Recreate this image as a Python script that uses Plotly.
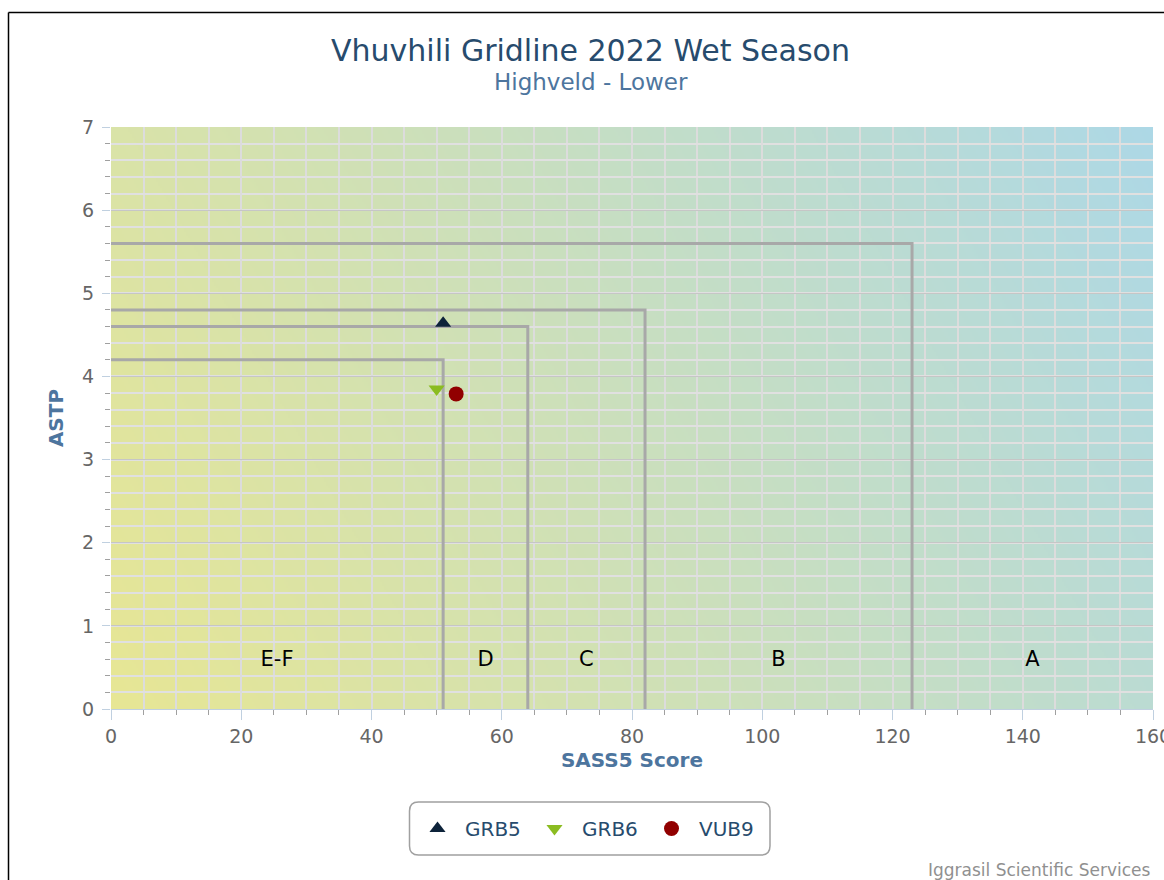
import base64
import struct
import zlib

import numpy as np
import plotly.graph_objects as go

# ---- data -----------------------------------------------------------------
sites = ["GRB5", "GRB6", "VUB9"]
sass5_score = [51, 50, 53]
aspt_value = [4.64, 3.85, 3.79]
site_symbols = ["triangle-up", "triangle-down", "circle"]
site_colors = ["#0d233a", "#8bbc21", "#910000"]

# ecological category boundaries (SASS5 limit, ASPT limit)
band_sass = [51, 64, 82, 123]
band_aspt = [4.2, 4.6, 4.8, 5.6]

# category labels and their centre along the SASS5 axis
class_labels = ["E-F", "D", "C", "B", "A"]
class_label_x = [25.5, 57.5, 73, 102.5, 141.5]

x_ticks = [0, 20, 40, 60, 80, 100, 120, 140, 160]
y_ticks = [0, 1, 2, 3, 4, 5, 6, 7]

# ---- page geometry --------------------------------------------------------
W, H = 1164, 880
L, R, T, B = 111, 11, 127, 171
PW, PH = W - L - R, H - T - B
FONT = "DejaVu Sans"


def px(x):
    return (x - L) / PW


def py(y):
    return (H - B - y) / PH


# ---- diagonal gradient for the plot background ---------------------------
def gradient_png(w, h, c0, c1):
    xs = np.linspace(0, 1, w)[None, :]
    ys = np.linspace(1, 0, h)[:, None]  # row 0 is the top
    t = (xs * PW * PW + ys * PH * PH) / (PW * PW + PH * PH)
    c0 = np.array(c0, float)
    c1 = np.array(c1, float)
    rgb = (c0 + (c1 - c0) * t[..., None]).round().astype(np.uint8)
    raw = b"".join(b"\x00" + rgb[i].tobytes() for i in range(h))

    def chunk(tag, data):
        body = tag + data
        return struct.pack(">I", len(data)) + body + struct.pack(">I", zlib.crc32(body) & 0xFFFFFFFF)

    png = (b"\x89PNG\r\n\x1a\n"
           + chunk(b"IHDR", struct.pack(">IIBBBBB", w, h, 8, 2, 0, 0, 0))
           + chunk(b"IDAT", zlib.compress(raw, 9))
           + chunk(b"IEND", b""))
    return "data:image/png;base64," + base64.b64encode(png).decode()


bg_uri = gradient_png(521, 291, (231, 230, 148), (173, 216, 230))

fig = go.Figure()

# category boundary lines
for bx, by in zip(band_sass, band_aspt):
    fig.add_trace(go.Scatter(
        x=[0, bx, bx], y=[by, by, 0], mode="lines",
        line=dict(color="#a8a8a8", width=3),
        showlegend=False, hoverinfo="skip", cliponaxis=False,
    ))

# category labels
fig.add_trace(go.Scatter(
    x=class_label_x, y=[0.58] * len(class_labels), mode="text",
    text=class_labels, textposition="middle center",
    textfont=dict(family=FONT, size=21, color="#000000"),
    showlegend=False, hoverinfo="skip",
))

# sites
for name, sx, sy, sym, col in zip(sites, sass5_score, aspt_value, site_symbols, site_colors):
    fig.add_trace(go.Scatter(
        x=[sx], y=[sy], mode="markers", name=name,
        marker=dict(symbol=sym, color=col, size=15 if sym == "circle" else 14,
                    line=dict(width=0)),
    ))

tick_font = dict(family=FONT, size=19, color="#666666")
title_font = dict(family=FONT, size=20, color="#4d759e")

fig.update_layout(
    width=W, height=H,
    margin=dict(l=L, r=R, t=T, b=B, autoexpand=False),
    paper_bgcolor="#ffffff",
    plot_bgcolor="rgba(0,0,0,0)",
    font=dict(family=FONT),
    title=dict(
        text="Vhuvhili Gridline 2022 Wet Season",
        font=dict(family=FONT, size=30, color="#274b6d"),
        x=590.5 / W, xref="container", xanchor="center",
        y=1 - 50 / H, yref="container", yanchor="middle",
    ),
    xaxis=dict(
        range=[0, 160], tickvals=x_ticks, ticktext=[str(v) for v in x_ticks],
        showgrid=True, gridcolor="#dcdcdc", gridwidth=1.5,
        zeroline=False, showline=True, linecolor="#c0d0e0", linewidth=1,
        ticks="outside", ticklen=10, tickcolor="#c0d0e0", tickwidth=1,
        tickfont=tick_font, ticklabeloverflow="allow", automargin=False,
        minor=dict(dtick=5, tick0=0, showgrid=True, gridcolor="#dcdcdc", gridwidth=1.5,
                   ticks="outside", ticklen=5, tickcolor="#a0a0a0"),
        title=dict(text="<b>SASS5 Score</b>", font=title_font, standoff=7),
        fixedrange=True,
    ),
    yaxis=dict(
        range=[0, 7], tickvals=y_ticks, ticktext=[str(v) for v in y_ticks],
        showgrid=True, gridcolor="#c6c6c6", gridwidth=1,
        zeroline=False, showline=False,
        ticks="outside", ticklen=8, tickcolor="#c0d0e0", tickwidth=1,
        tickfont=tick_font, ticklabelstandoff=4, automargin=False,
        minor=dict(dtick=0.2, tick0=0, showgrid=True, gridcolor="#e0e0e0", gridwidth=1.5,
                   ticks="outside", ticklen=5, tickcolor="#a0a0a0"),
        title=dict(text="<b>ASTP</b>", font=title_font, standoff=13),
        fixedrange=True,
    ),
    legend=dict(
        orientation="h", x=px(585.5), xanchor="center",
        y=py(828.5), yanchor="middle",
        bgcolor="rgba(0,0,0,0)", borderwidth=0,
        font=dict(family=FONT, size=20, color="#274b6d"),
        itemwidth=45, entrywidth=57, entrywidthmode="pixels",
        itemclick=False, itemdoubleclick=False,
    ),
    images=[dict(
        source=bg_uri, xref="x", yref="y", x=0, y=7, sizex=160, sizey=7,
        sizing="stretch", xanchor="left", yanchor="top", layer="below",
    )],
    annotations=[
        dict(text="Highveld - Lower", x=px(590.5), y=py(82), xref="paper", yref="paper",
             xanchor="center", yanchor="middle", showarrow=False,
             font=dict(family=FONT, size=23, color="#4d759e")),
        dict(text="Iggrasil Scientific Services", x=px(1152), y=py(870),
             xref="paper", yref="paper", xanchor="right", yanchor="middle",
             showarrow=False, font=dict(family=FONT, size=17, color="#909090")),
    ],
)

# rounded legend frame
lx0, lx1, ly0, ly1, rr = px(409.5), px(770), py(855), py(802), 9
rx, ry = rr / PW, rr / PH
legend_path = (
    f"M {lx0 + rx},{ly1} L {lx1 - rx},{ly1} Q {lx1},{ly1} {lx1},{ly1 - ry} "
    f"L {lx1},{ly0 + ry} Q {lx1},{ly0} {lx1 - rx},{ly0} "
    f"L {lx0 + rx},{ly0} Q {lx0},{ly0} {lx0},{ly0 + ry} "
    f"L {lx0},{ly1 - ry} Q {lx0},{ly1} {lx0 + rx},{ly1} Z"
)
fig.add_shape(type="path", path=legend_path, xref="paper", yref="paper",
              line=dict(color="#a0a0a0", width=1.5), fillcolor="rgba(0,0,0,0)")

# chart container frame (left and top edges)
fig.add_shape(type="line", xref="paper", yref="paper",
              x0=px(8.5), x1=px(8.5), y0=py(H + 5), y1=py(12.5),
              line=dict(color="#000000", width=1.5))
fig.add_shape(type="line", xref="paper", yref="paper",
              x0=px(8.5), x1=px(W + 20), y0=py(12.5), y1=py(12.5),
              line=dict(color="#000000", width=1.5))

fig.write_html("out.html", config={"displayModeBar": False})
